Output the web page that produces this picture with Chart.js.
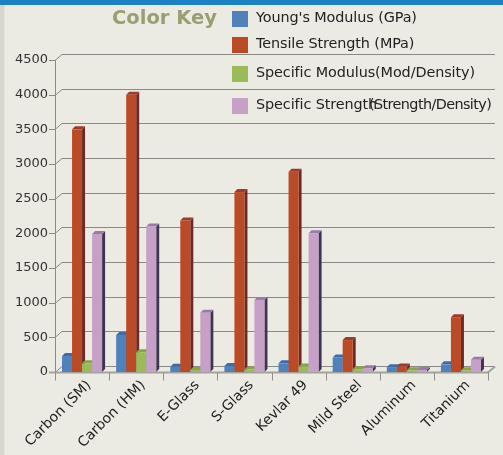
<!DOCTYPE html>
<html>
<head>
<meta charset="utf-8">
<script src="https://cdn.jsdelivr.net/npm/chart.js@4/dist/chart.umd.min.js"></script>
<style>
  html, body { margin: 0; padding: 0; }
  body { width: 503px; height: 455px; background: #ebebe3; position: relative; overflow: hidden; font-family: "DejaVu Sans", sans-serif; }
  #topbar { position: absolute; left: 0; top: 0; width: 503px; height: 5px; background: #1c80c4; }
  #leftbar { position: absolute; left: 0; top: 5px; width: 4px; height: 450px; background: #d6d7ce; border-right: 1px solid #e4e4dc; }
  #wrap { position: absolute; left: 0; top: 0; width: 503px; height: 455px; }
  .key-title { position: absolute; left: 112px; top: 6px; font-family: "DejaVu Sans", sans-serif; font-weight: bold; font-size: 19.5px; color: #9a9f72; }
  .key { position: absolute; left: 232px; font-size: 14.4px; color: #222; white-space: nowrap; }
  .key i { position: absolute; left: 0; top: 0; width: 16px; height: 16px; }
  .key span { position: absolute; left: 24px; top: -2px; letter-spacing: -0.1px; }
</style>
</head>
<body>
<div id="topbar"></div>
<div id="leftbar"></div>
<div id="wrap"><canvas id="chart" width="503" height="455"></canvas></div>
<div class="key-title">Color Key</div>
<div class="key" style="top:11px"><i style="background:#4f81bd"></i><span>Young's Modulus (GPa)</span></div>
<div class="key" style="top:37px"><i style="background:#bb4b26"></i><span>Tensile Strength (MPa)</span></div>
<div class="key" style="top:66px"><i style="background:#9bbb59"></i><span>Specific Modulus(Mod/Density)</span></div>
<div class="key" style="top:98px"><i style="background:#c6a0c6"></i><span>Specific Strength</span><span style="left:137px;letter-spacing:-0.6px">(Strength/Density)</span></div>
<script>
const categories = ["Carbon (SM)", "Carbon (HM)", "E-Glass", "S-Glass", "Kevlar 49", "Mild Steel", "Aluminum", "Titanium"];
const youngsModulus = [230, 535, 75, 85, 125, 210, 70, 110];
const tensileStrength = [3500, 4000, 2185, 2595, 2890, 460, 80, 790];
const specificModulus = [125, 285, 30, 35, 80, 40, 25, 25];
const specificStrength = [1990, 2100, 855, 1040, 2000, 55, 30, 175];

// front, top, side colours for each series
const faces = [
  ["#4f81bd", "#3d6ca6", "#344f7a"],
  ["#bb4b26", "#9c3a2c", "#6b2a27"],
  ["#9bbb59", "#86a548", "#6f8a3c"],
  ["#c6a0c6", "#9a7aa8", "#3f3352"],
];
const depth = 3;

// back wall, floor and ticks
const wallPlugin = {
  id: "wall",
  beforeDatasetsDraw(chart) {
    const ctx = chart.ctx;
    const area = chart.chartArea;
    const y = chart.scales.y;
    const off = 6;
    ctx.save();
    ctx.strokeStyle = "#8a8a85";
    ctx.lineWidth = 1;
    y.ticks.forEach((t) => {
      const py = Math.round(y.getPixelForValue(t.value)) + 0.5;
      ctx.beginPath();
      ctx.moveTo(area.left - 6, py);
      ctx.lineTo(area.left, py);
      ctx.lineTo(area.left + off + 1, py - off);
      ctx.lineTo(area.right + off + 1, py - off);
      ctx.stroke();
    });
    // axis line
    ctx.beginPath();
    ctx.moveTo(Math.round(area.left) + 0.5, y.getPixelForValue(4500));
    ctx.lineTo(Math.round(area.left) + 0.5, area.bottom + 8);
    ctx.stroke();
    // floor front edge
    const fy = Math.round(area.bottom) + 0.5;
    ctx.strokeStyle = "#a3a39e";
    ctx.lineWidth = 2;
    ctx.beginPath();
    ctx.moveTo(area.left - 6, fy);
    ctx.lineTo(area.right, fy);
    ctx.lineTo(area.right + off + 1, fy - off);
    ctx.stroke();
    // category ticks
    ctx.lineWidth = 1;
    ctx.strokeStyle = "#8f8f8a";
    for (let i = 0; i <= categories.length; i++) {
      const px = Math.round(area.left + (i * (area.right - area.left)) / categories.length) + 0.5;
      ctx.beginPath();
      ctx.moveTo(px, fy);
      ctx.lineTo(px, fy + 8);
      ctx.stroke();
    }
    ctx.restore();
  },
};

// draw bars as small 3D blocks, left to right
const blockPlugin = {
  id: "blocks",
  beforeDatasetsDraw(chart) {
    const ctx = chart.ctx;
    const metas = chart.data.datasets.map((d, i) => chart.getDatasetMeta(i));
    ctx.save();
    for (let j = 0; j < categories.length; j++) {
      metas.forEach((meta, i) => {
        const bar = meta.data[j];
        const p = bar.getProps(["x", "y", "base", "width"], true);
        const l = p.x - p.width / 2;
        const r = p.x + p.width / 2;
        const [front, top, side] = faces[i];
        ctx.fillStyle = side;
        ctx.beginPath();
        ctx.moveTo(r, p.y);
        ctx.lineTo(r + depth, p.y - depth);
        ctx.lineTo(r + depth, p.base - depth);
        ctx.lineTo(r, p.base);
        ctx.closePath();
        ctx.fill();
        ctx.fillStyle = top;
        ctx.beginPath();
        ctx.moveTo(l, p.y);
        ctx.lineTo(l + depth, p.y - depth);
        ctx.lineTo(r + depth, p.y - depth);
        ctx.lineTo(r, p.y);
        ctx.closePath();
        ctx.fill();
        ctx.fillStyle = front;
        ctx.fillRect(l, p.y, r - l, p.base - p.y);
      });
    }
    ctx.restore();
    return false;
  },
};

const ctx = document.getElementById("chart").getContext("2d");
new Chart(ctx, {
  type: "bar",
  data: {
    labels: categories,
    datasets: [
      { label: "Young's Modulus (GPa)", data: youngsModulus, backgroundColor: faces[0][0] },
      { label: "Tensile Strength (MPa)", data: tensileStrength, backgroundColor: faces[1][0] },
      { label: "Specific Modulus(Mod/Density)", data: specificModulus, backgroundColor: faces[2][0] },
      { label: "Specific Strength(Strength/Density)", data: specificStrength, backgroundColor: faces[3][0] },
    ],
  },
  options: {
    responsive: false,
    animation: false,
    layout: { padding: { top: 60, right: 15, bottom: 0, left: 0 } },
    categoryPercentage: 0.74,
    barPercentage: 1,
    scales: {
      y: {
        min: 0,
        max: 4500,
        ticks: {
          stepSize: 500,
          padding: 7,
          color: "#333",
          font: { family: "DejaVu Sans", size: 13 },
          callback: (v) => String(v),
        },
        grid: { display: false, drawTicks: false },
        border: { display: false },
        afterFit(scale) { scale.width = 55; },
      },
      x: {
        ticks: {
          minRotation: 45,
          maxRotation: 45,
          autoSkip: false,
          padding: 5,
          labelOffset: 7,
          color: "#222",
          font: { family: "DejaVu Sans", size: 14 },
        },
        grid: { display: false, drawTicks: false },
        border: { display: false },
        afterFit(scale) { scale.height = 83; },
      },
    },
    plugins: { legend: { display: false }, tooltip: { enabled: false } },
  },
  plugins: [wallPlugin, blockPlugin],
});
</script>
</body>
</html>
